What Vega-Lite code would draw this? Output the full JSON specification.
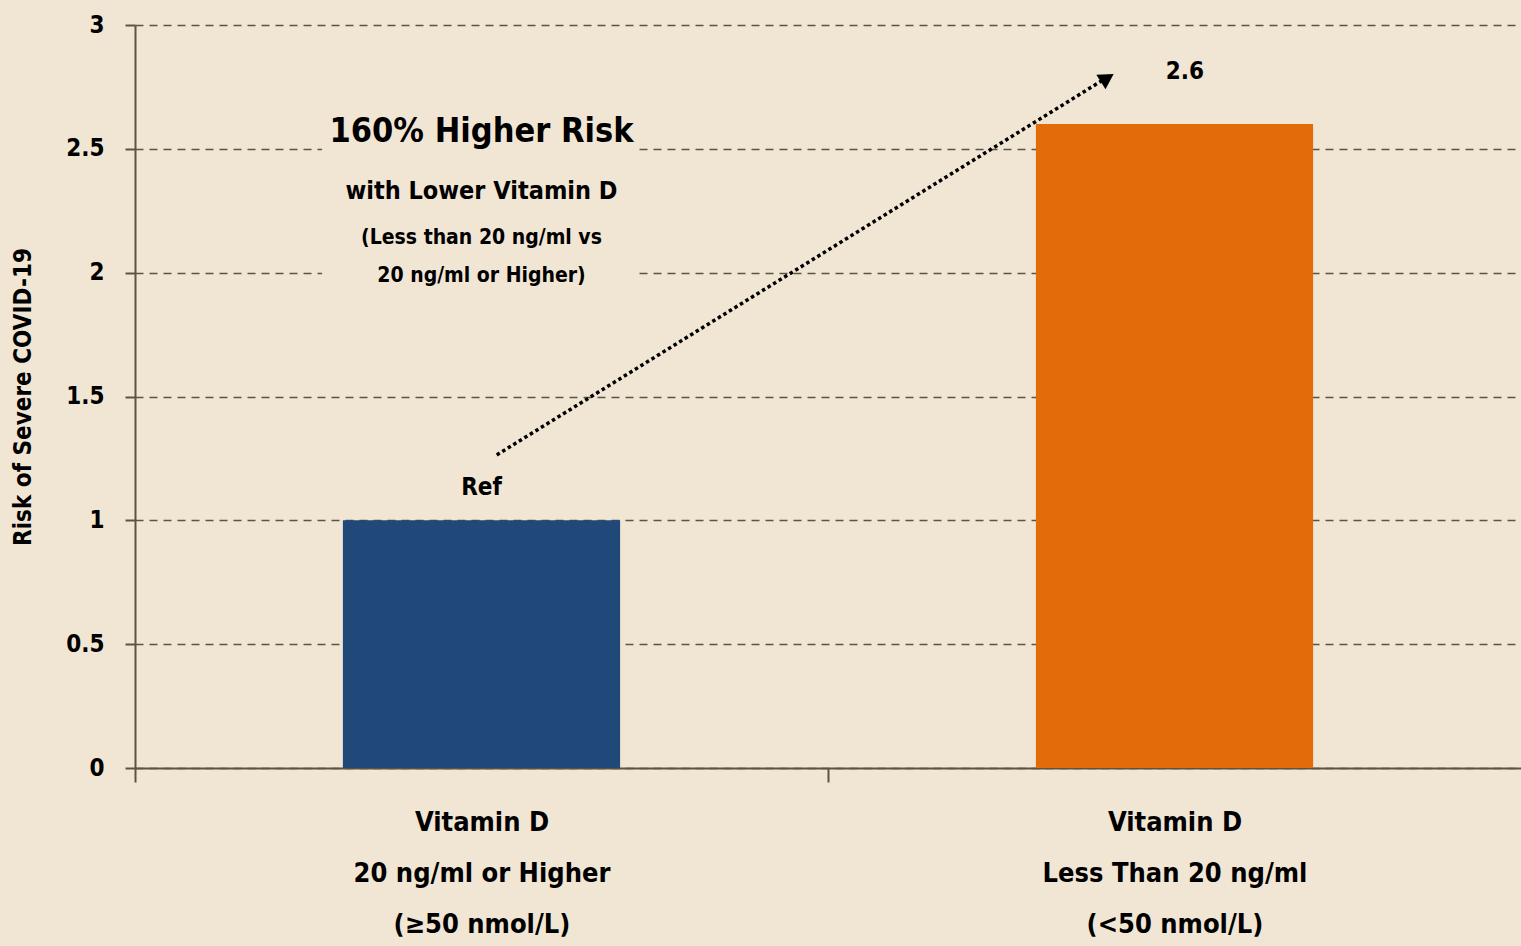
{
  "$schema": "https://vega.github.io/schema/vega-lite/v6.json",
  "width": 1386,
  "height": 743,
  "autosize": {"type": "none"},
  "padding": {"left": 135, "top": 25, "right": 0, "bottom": 178},
  "background": "#F1E6D3",
  "config": {"view": {"stroke": null}, "font": "DejaVu Sans Condensed, Roboto, sans-serif"},
  "datasets": {
    "bars": [
      {"group": "Vitamin D|20 ng/ml or Higher|(≥50 nmol/L)", "risk": 1, "cat": "ref"},
      {"group": "Vitamin D|Less Than 20 ng/ml|(<50 nmol/L)", "risk": 2.6, "cat": "low"}
    ],
    "notes": [
      {"key": "title", "x": 0.5, "y": 2.568, "text": "160% Higher Risk"},
      {"key": "sub", "x": 0.5, "y": 2.33, "text": "with Lower Vitamin D"},
      {"key": "small", "x": 0.5, "y": 2.14, "text": "(Less than 20 ng/ml vs"},
      {"key": "small", "x": 0.5, "y": 1.986, "text": "20 ng/ml or Higher)"},
      {"key": "value", "x": 0.5, "y": 1.13, "text": "Ref"},
      {"key": "value", "x": 1.515, "y": 2.81, "text": "2.6"}
    ],
    "box": [{"x1": 0.27, "x2": 0.726, "y1": 1.89, "y2": 2.697}],
    "arrow": [
      {"x": 0.522, "y": 1.264},
      {"x": 1.398, "y": 2.78}
    ],
    "head": [{"x": 1.403, "y": 2.786}]
  },
  "layer": [
    {
      "data": {"name": "bars"},
      "mark": {"type": "bar"},
      "encoding": {
        "x": {
          "field": "group", "type": "nominal", "sort": null,
          "scale": {"paddingInner": 0.6, "paddingOuter": 0.3},
          "axis": {
            "title": null,
            "labelAngle": 0,
            "labelExpr": "split(datum.label, '|')",
            "labelFontSize": 27,
            "labelFontWeight": "bold",
            "labelColor": "#000000",
            "labelLineHeight": 51,
            "labelPadding": 27,
            "labelBaseline": "top",
            "labelLimit": 0,
            "tickOffset": -346.5,
            "labelOffset": 346.5,
            "tickSize": 14,
            "tickWidth": 2,
            "tickColor": "#5a5540",
            "domainColor": "#5a5540",
            "domainWidth": 2
          }
        },
        "y": {
          "field": "risk", "type": "quantitative",
          "scale": {"domain": [0, 3], "nice": false},
          "axis": {
            "title": "Risk of Severe COVID-19",
            "titleFontSize": 24,
            "titleFontWeight": "bold",
            "titleColor": "#000000",
            "titlePadding": 30,
            "values": [0, 0.5, 1, 1.5, 2, 2.5, 3],
            "format": "~g",
            "labelFontSize": 24,
            "labelFontWeight": "bold",
            "labelColor": "#000000",
            "labelPadding": 21,
            "tickSize": 10,
            "tickColor": "#5a5540",
            "tickWidth": 2,
            "domainColor": "#5a5540",
            "domainWidth": 2,
            "grid": true,
            "gridColor": "#5a5540",
            "gridDash": [8, 6],
            "gridWidth": 1.5,
            "gridOpacity": 1
          }
        },
        "color": {
          "field": "cat", "type": "nominal",
          "scale": {"domain": ["ref", "low"], "range": ["#20497A", "#E36C0A"]},
          "legend": null
        }
      }
    },
    {
      "data": {"name": "box"},
      "mark": {"type": "rect", "color": "#F1E6D3"},
      "encoding": {
        "x": {"field": "x1", "type": "quantitative", "scale": {"domain": [0, 2], "nice": false, "zero": false}, "axis": null},
        "x2": {"field": "x2"},
        "y": {"field": "y1", "type": "quantitative"},
        "y2": {"field": "y2"}
      }
    },
    {
      "data": {"name": "arrow"},
      "mark": {"type": "line", "color": "#000000", "strokeWidth": 3.5, "strokeDash": [3.5, 3]},
      "encoding": {
        "x": {"field": "x", "type": "quantitative", "scale": {"domain": [0, 2], "nice": false, "zero": false}, "axis": null},
        "y": {"field": "y", "type": "quantitative"}
      }
    },
    {
      "data": {"name": "head"},
      "mark": {"type": "point", "shape": "triangle-up", "filled": true, "color": "#000000", "opacity": 1, "size": 300, "angle": 58},
      "encoding": {
        "x": {"field": "x", "type": "quantitative", "scale": {"domain": [0, 2], "nice": false, "zero": false}, "axis": null},
        "y": {"field": "y", "type": "quantitative"}
      }
    },
    {
      "data": {"name": "notes"},
      "transform": [{"filter": "datum.key === 'title'"}],
      "mark": {"type": "text", "fontSize": 34, "fontWeight": "bold", "color": "#000000", "baseline": "middle"},
      "encoding": {
        "x": {"field": "x", "type": "quantitative", "scale": {"domain": [0, 2], "nice": false, "zero": false}, "axis": null},
        "y": {"field": "y", "type": "quantitative"},
        "text": {"field": "text"}
      }
    },
    {
      "data": {"name": "notes"},
      "transform": [{"filter": "datum.key === 'sub'"}],
      "mark": {"type": "text", "fontSize": 25, "fontWeight": "bold", "color": "#000000", "baseline": "middle"},
      "encoding": {
        "x": {"field": "x", "type": "quantitative", "scale": {"domain": [0, 2], "nice": false, "zero": false}, "axis": null},
        "y": {"field": "y", "type": "quantitative"},
        "text": {"field": "text"}
      }
    },
    {
      "data": {"name": "notes"},
      "transform": [{"filter": "datum.key === 'small'"}],
      "mark": {"type": "text", "fontSize": 21, "fontWeight": "bold", "color": "#000000", "baseline": "middle"},
      "encoding": {
        "x": {"field": "x", "type": "quantitative", "scale": {"domain": [0, 2], "nice": false, "zero": false}, "axis": null},
        "y": {"field": "y", "type": "quantitative"},
        "text": {"field": "text"}
      }
    },
    {
      "data": {"name": "notes"},
      "transform": [{"filter": "datum.key === 'value'"}],
      "mark": {"type": "text", "fontSize": 24, "fontWeight": "bold", "color": "#000000", "baseline": "middle"},
      "encoding": {
        "x": {"field": "x", "type": "quantitative", "scale": {"domain": [0, 2], "nice": false, "zero": false}, "axis": null},
        "y": {"field": "y", "type": "quantitative"},
        "text": {"field": "text"}
      }
    }
  ],
  "resolve": {"scale": {"x": "independent"}}
}
